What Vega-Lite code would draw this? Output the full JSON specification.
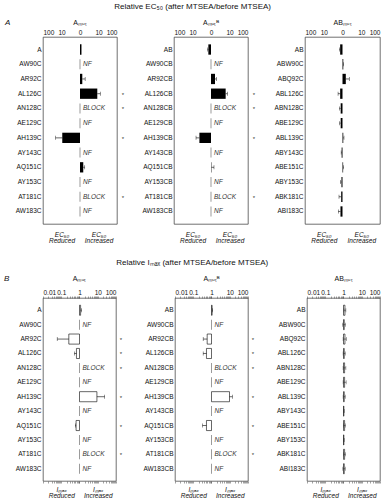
{
"$schema": "https://vega.github.io/schema/vega-lite/v6.json",
"padding": {"left": 3, "top": 2, "right": 2, "bottom": 0},
"config": {
 "font": "Liberation Sans",
 "view": {"stroke": "#333", "strokeWidth": 0.7},
 "axis": {"labelFontSize": 6.5, "ticks": false, "domain": false, "grid": false, "labelPadding": 2, "labelColor": "#111"},
 "title": {"fontSize": 7, "fontWeight": "normal", "offset": 3, "color": "#111"}
},
"data": {"values": [
 {"p":"A1","r":"A","v":1.2},
 {"p":"A1","r":"AW90C","n":"NF"},
 {"p":"A1","r":"AR92C","v":1.33,"e":1.9},
 {"p":"A1","r":"AL126C","v":8.6,"e":12.5,"s":1},
 {"p":"A1","r":"AN128C","n":"BLOCK","s":1},
 {"p":"A1","r":"AE129C","n":"NF"},
 {"p":"A1","r":"AH139C","v":0.11,"e":0.048,"s":1},
 {"p":"A1","r":"AY143C","n":"NF"},
 {"p":"A1","r":"AQ151C","v":1.5,"e":1.8},
 {"p":"A1","r":"AY153C","n":"NF"},
 {"p":"A1","r":"AT181C","n":"BLOCK","s":1},
 {"p":"A1","r":"AW183C","n":"NF"},
 {"p":"A2","r":"AB","v":0.72,"e":0.66},
 {"p":"A2","r":"AW90CB","n":"NF"},
 {"p":"A2","r":"AR92CB","v":1.65,"e":2.0},
 {"p":"A2","r":"AL126CB","v":6.2,"e":7.7,"s":1},
 {"p":"A2","r":"AN128CB","n":"BLOCK","s":1},
 {"p":"A2","r":"AE129CB","n":"NF"},
 {"p":"A2","r":"AH139CB","v":0.236,"e":0.155,"s":1},
 {"p":"A2","r":"AY143CB","n":"NF"},
 {"p":"A2","r":"AQ151CB","v":1.05,"e":1.45},
 {"p":"A2","r":"AY153CB","n":"NF"},
 {"p":"A2","r":"AT181CB","n":"BLOCK","s":1},
 {"p":"A2","r":"AW183CB","n":"NF"},
 {"p":"A3","r":"AB","v":0.75,"e":0.7},
 {"p":"A3","r":"ABW90C","v":1.1,"e":1.15},
 {"p":"A3","r":"ABQ92C","v":1.5,"e":2.3},
 {"p":"A3","r":"ABL126C","v":0.75,"e":0.58},
 {"p":"A3","r":"ABN128C","v":0.8,"e":0.69},
 {"p":"A3","r":"ABE129C","v":0.8,"e":0.7},
 {"p":"A3","r":"ABL139C","v":1.1,"e":1.2},
 {"p":"A3","r":"ABY143C","v":0.9,"e":0.85},
 {"p":"A3","r":"ABE151C","v":1.08,"e":1.15},
 {"p":"A3","r":"ABY153C","v":0.88,"e":0.78},
 {"p":"A3","r":"ABK181C","v":0.85,"e":0.65},
 {"p":"A3","r":"ABI183C","v":0.78,"e":0.6},
 {"p":"B1","r":"A","v":1.15,"e":1.3},
 {"p":"B1","r":"AW90C","n":"NF"},
 {"p":"B1","r":"AR92C","v":0.26,"e":0.06,"s":1},
 {"p":"B1","r":"AL126C","v":0.68,"e":0.52,"s":1},
 {"p":"B1","r":"AN128C","n":"BLOCK","s":1},
 {"p":"B1","r":"AE129C","n":"NF"},
 {"p":"B1","r":"AH139C","v":9,"e":24,"s":1},
 {"p":"B1","r":"AY143C","n":"NF"},
 {"p":"B1","r":"AQ151C","v":0.65,"e":0.6,"s":1},
 {"p":"B1","r":"AY153C","n":"NF"},
 {"p":"B1","r":"AT181C","n":"BLOCK","s":1},
 {"p":"B1","r":"AW183C","n":"NF"},
 {"p":"B2","r":"AB","v":1.08,"e":1.15},
 {"p":"B2","r":"AW90CB","n":"NF"},
 {"p":"B2","r":"AR92CB","v":0.58,"e":0.35,"s":1},
 {"p":"B2","r":"AL126CB","v":0.53,"e":0.35,"s":1},
 {"p":"B2","r":"AN128CB","n":"BLOCK","s":1},
 {"p":"B2","r":"AE129CB","n":"NF"},
 {"p":"B2","r":"AH139CB","v":9.7,"e":14,"s":1},
 {"p":"B2","r":"AY143CB","n":"NF"},
 {"p":"B2","r":"AQ151CB","v":0.53,"e":0.32,"s":1},
 {"p":"B2","r":"AY153CB","n":"NF"},
 {"p":"B2","r":"AT181CB","n":"BLOCK","s":1},
 {"p":"B2","r":"AW183CB","n":"NF"},
 {"p":"B3","r":"AB","v":1.2,"e":1.35,"l":1.05},
 {"p":"B3","r":"ABW90C","v":1.1,"e":1.3,"l":0.9},
 {"p":"B3","r":"ABQ92C","v":1.2,"e":1.45,"l":0.95},
 {"p":"B3","r":"ABL126C","v":1.1,"e":1.25,"l":0.95},
 {"p":"B3","r":"ABN128C","v":1.15,"e":1.35,"l":0.95},
 {"p":"B3","r":"ABE129C","v":1.15,"e":1.4,"l":0.95},
 {"p":"B3","r":"ABL139C","v":1.1,"e":1.25,"l":0.95},
 {"p":"B3","r":"ABY143C","v":1.05,"e":1.1,"l":1.0},
 {"p":"B3","r":"ABE151C","v":1.15,"e":1.3,"l":1.0},
 {"p":"B3","r":"ABY153C","v":1.05,"e":1.1,"l":1.0},
 {"p":"B3","r":"ABK181C","v":1.15,"e":1.3,"l":1.0},
 {"p":"B3","r":"ABI183C","v":1.1,"e":1.25,"l":0.92}
]},
"spacing": 13,
"vconcat": [
{
 "title": {"text": "Relative EC₅₀ (after MTSEA/before MTSEA)", "fontSize": 8, "anchor": "middle", "offset": 8},
 "vconcat": [{
 "title": {"text": "A", "anchor": "start", "offset": -8, "dx": -10, "fontSize": 8, "fontStyle": "italic"},
 "spacing": 57, "bounds": "flush",
 "hconcat": [
 {
  "width": 74, "height": 187, "title": "Aₘᵤₜ",
  "transform": [{"filter": "datum.p == 'A1'"}],
  "encoding": {"y": {"field": "r", "type": "nominal", "scale": {"domain": ["A","AW90C","AR92C","AL126C","AN128C","AE129C","AH139C","AY143C","AQ151C","AY153C","AT181C","AW183C"], "paddingInner": 0.3, "paddingOuter": 0.5}, "axis": {"title": null}}},
  "layer": [
   {"mark": {"type": "bar", "color": "black"}, "encoding": {"x": {"field": "v", "type": "quantitative", "scale": {"type": "log", "domain": [0.01, 100]}, "axis": {"orient": "top", "values": [0.01,0.1,1,10,100], "labelExpr": "datum.value < 0.05 ? '100' : datum.value < 0.5 ? '10' : datum.value < 5 ? '0' : datum.value < 50 ? '10' : '100'", "title": null}}, "x2": {"datum": 1}}},
   {"mark": {"type": "rule", "color": "black", "strokeWidth": 0.6}, "encoding": {"x": {"field": "e", "type": "quantitative", "scale": {"type": "log", "domain": [0.01, 100]}, "axis": {"orient": "bottom", "values": [0.1, 10], "labelExpr": "datum.value < 1 ? ['EC₅₀','Reduced'] : ['EC₅₀','Increased']", "labelFontStyle": "italic", "labelPadding": 7, "labelLineHeight": 6.5, "title": null}}, "x2": {"field": "v"}}},
   {"mark": {"type": "tick", "color": "black", "size": 4, "thickness": 0.6}, "encoding": {"x": {"field": "e", "type": "quantitative", "scale": {"type": "log", "domain": [0.01, 100]}, "axis": null}}},
   {"transform": [{"filter": "datum.n"}], "mark": {"type": "tick", "color": "#333", "size": 10, "thickness": 0.7}, "encoding": {"x": {"datum": 1, "scale": {"type": "log", "domain": [0.01, 100]}, "axis": null}}},
   {"transform": [{"filter": "datum.n"}], "mark": {"type": "text", "align": "left", "dx": 3, "fontStyle": "italic", "fontSize": 6.5, "color": "#333"}, "encoding": {"x": {"datum": 1, "scale": {"type": "log", "domain": [0.01, 100]}, "axis": null}, "text": {"field": "n"}}},
   {"transform": [{"filter": "datum.s"}], "mark": {"type": "text", "align": "center", "dx": 6, "dy": 1, "fontSize": 6, "color": "#333"}, "encoding": {"x": {"datum": 100, "scale": {"type": "log", "domain": [0.01, 100]}, "axis": null}, "text": {"value": "*"}}}
  ],
  "resolve": {"axis": {"x": "independent"}}
 },
 {
  "width": 74, "height": 187, "title": "Aₘᵤₜᴮ",
  "transform": [{"filter": "datum.p == 'A2'"}],
  "encoding": {"y": {"field": "r", "type": "nominal", "scale": {"domain": ["AB","AW90CB","AR92CB","AL126CB","AN128CB","AE129CB","AH139CB","AY143CB","AQ151CB","AY153CB","AT181CB","AW183CB"], "paddingInner": 0.3, "paddingOuter": 0.5}, "axis": {"title": null}}},
  "layer": [
   {"mark": {"type": "bar", "color": "black"}, "encoding": {"x": {"field": "v", "type": "quantitative", "scale": {"type": "log", "domain": [0.01, 100]}, "axis": {"orient": "top", "values": [0.01,0.1,1,10,100], "labelExpr": "datum.value < 0.05 ? '100' : datum.value < 0.5 ? '10' : datum.value < 5 ? '0' : datum.value < 50 ? '10' : '100'", "title": null}}, "x2": {"datum": 1}}},
   {"mark": {"type": "rule", "color": "black", "strokeWidth": 0.6}, "encoding": {"x": {"field": "e", "type": "quantitative", "scale": {"type": "log", "domain": [0.01, 100]}, "axis": {"orient": "bottom", "values": [0.1, 10], "labelExpr": "datum.value < 1 ? ['EC₅₀','Reduced'] : ['EC₅₀','Increased']", "labelFontStyle": "italic", "labelPadding": 7, "labelLineHeight": 6.5, "title": null}}, "x2": {"field": "v"}}},
   {"mark": {"type": "tick", "color": "black", "size": 4, "thickness": 0.6}, "encoding": {"x": {"field": "e", "type": "quantitative", "scale": {"type": "log", "domain": [0.01, 100]}, "axis": null}}},
   {"transform": [{"filter": "datum.n"}], "mark": {"type": "tick", "color": "#333", "size": 10, "thickness": 0.7}, "encoding": {"x": {"datum": 1, "scale": {"type": "log", "domain": [0.01, 100]}, "axis": null}}},
   {"transform": [{"filter": "datum.n"}], "mark": {"type": "text", "align": "left", "dx": 3, "fontStyle": "italic", "fontSize": 6.5, "color": "#333"}, "encoding": {"x": {"datum": 1, "scale": {"type": "log", "domain": [0.01, 100]}, "axis": null}, "text": {"field": "n"}}},
   {"transform": [{"filter": "datum.s"}], "mark": {"type": "text", "align": "center", "dx": 6, "dy": 1, "fontSize": 6, "color": "#333"}, "encoding": {"x": {"datum": 100, "scale": {"type": "log", "domain": [0.01, 100]}, "axis": null}, "text": {"value": "*"}}}
  ],
  "resolve": {"axis": {"x": "independent"}}
 },
 {
  "width": 75, "height": 187, "title": "ABₘᵤₜ",
  "transform": [{"filter": "datum.p == 'A3'"}],
  "encoding": {"y": {"field": "r", "type": "nominal", "scale": {"domain": ["AB","ABW90C","ABQ92C","ABL126C","ABN128C","ABE129C","ABL139C","ABY143C","ABE151C","ABY153C","ABK181C","ABI183C"], "paddingInner": 0.3, "paddingOuter": 0.5}, "axis": {"title": null}}},
  "layer": [
   {"mark": {"type": "bar", "color": "black"}, "encoding": {"x": {"field": "v", "type": "quantitative", "scale": {"type": "log", "domain": [0.01, 100]}, "axis": {"orient": "top", "values": [0.01,0.1,1,10,100], "labelFlush": true, "labelExpr": "datum.value < 0.05 ? '100' : datum.value < 0.5 ? '10' : datum.value < 5 ? '0' : datum.value < 50 ? '10' : '100'", "title": null}}, "x2": {"datum": 1}}},
   {"mark": {"type": "rule", "color": "black", "strokeWidth": 0.6}, "encoding": {"x": {"field": "e", "type": "quantitative", "scale": {"type": "log", "domain": [0.01, 100]}, "axis": {"orient": "bottom", "values": [0.1, 10], "labelExpr": "datum.value < 1 ? ['EC₅₀','Reduced'] : ['EC₅₀','Increased']", "labelFontStyle": "italic", "labelPadding": 7, "labelLineHeight": 6.5, "title": null}}, "x2": {"field": "v"}}},
   {"mark": {"type": "tick", "color": "black", "size": 4, "thickness": 0.6}, "encoding": {"x": {"field": "e", "type": "quantitative", "scale": {"type": "log", "domain": [0.01, 100]}, "axis": null}}}
  ],
  "resolve": {"axis": {"x": "independent"}}
 }
 ]
 }]
},
{
 "title": {"text": "Relative Iₘₐₓ (after MTSEA/before MTSEA)", "fontSize": 8, "anchor": "middle", "offset": 8},
 "vconcat": [{
 "title": {"text": "B", "anchor": "start", "offset": -8, "dx": -11, "fontSize": 8, "fontStyle": "italic"},
 "spacing": 59, "bounds": "flush",
 "hconcat": [
 {
  "width": 73, "height": 183, "title": {"text": "Aₘᵤₜ", "offset": 7},
  "transform": [{"filter": "datum.p == 'B1'"}],
  "encoding": {"y": {"field": "r", "type": "nominal", "scale": {"domain": ["A","AW90C","AR92C","AL126C","AN128C","AE129C","AH139C","AY143C","AQ151C","AY153C","AT181C","AW183C"], "paddingInner": 0.3, "paddingOuter": 0.5}, "axis": {"title": null}}},
  "layer": [
   {"mark": {"type": "bar", "fill": "white", "stroke": "black", "strokeWidth": 0.6}, "encoding": {"x": {"field": "v", "type": "quantitative", "scale": {"type": "log", "domain": [0.01, 100]}, "axis": {"orient": "top", "values": [0.01,0.02,0.03,0.04,0.05,0.06,0.07,0.08,0.09,0.1,0.2,0.3,0.4,0.5,0.6,0.7,0.8,0.9,1,2,3,4,5,6,7,8,9,10,20,30,40,50,60,70,80,90,100], "labelExpr": "datum.value==0.01?'0.01':datum.value==0.1?'0.1':datum.value==1?'1':datum.value==10?'10':datum.value==100?'100':''", "labelOverlap": false, "ticks": true, "tickSize": 2, "tickWidth": 0.5, "tickColor": "#444", "labelPadding": 1, "title": null}}, "x2": {"datum": 1}}},
   {"mark": {"type": "rule", "color": "black", "strokeWidth": 0.6}, "encoding": {"x": {"field": "e", "type": "quantitative", "scale": {"type": "log", "domain": [0.01, 100]}, "axis": {"orient": "bottom", "values": [0.01,0.02,0.03,0.04,0.05,0.06,0.07,0.08,0.09,0.1,0.2,0.3,0.4,0.5,0.6,0.7,0.8,0.9,1,2,3,4,5,6,7,8,9,10,20,30,40,50,60,70,80,90,100], "labelExpr": "datum.value==0.1?['Iₘₐₓ','Reduced']:datum.value==10?['Iₘₐₓ','Increased']:''", "labelOverlap": false, "ticks": true, "tickSize": 2, "tickWidth": 0.5, "tickColor": "#444", "labelFontStyle": "italic", "labelPadding": 3, "labelLineHeight": 6.5, "title": null}}, "x2": {"field": "v"}}},
   {"mark": {"type": "tick", "color": "black", "size": 4, "thickness": 0.6}, "encoding": {"x": {"field": "e", "type": "quantitative", "scale": {"type": "log", "domain": [0.01, 100]}, "axis": null}}},
   {"transform": [{"filter": "datum.n"}], "mark": {"type": "tick", "color": "#333", "size": 10, "thickness": 0.7}, "encoding": {"x": {"datum": 1, "scale": {"type": "log", "domain": [0.01, 100]}, "axis": null}}},
   {"transform": [{"filter": "datum.n"}], "mark": {"type": "text", "align": "left", "dx": 3, "fontStyle": "italic", "fontSize": 6.5, "color": "#333"}, "encoding": {"x": {"datum": 1, "scale": {"type": "log", "domain": [0.01, 100]}, "axis": null}, "text": {"field": "n"}}},
   {"transform": [{"filter": "datum.s"}], "mark": {"type": "text", "align": "center", "dx": 5, "dy": 1, "fontSize": 6, "color": "#333"}, "encoding": {"x": {"datum": 100, "scale": {"type": "log", "domain": [0.01, 100]}, "axis": null}, "text": {"value": "*"}}}
  ],
  "resolve": {"axis": {"x": "independent"}}
 },
 {
  "width": 73, "height": 183, "title": {"text": "Aₘᵤₜᴮ", "offset": 7},
  "transform": [{"filter": "datum.p == 'B2'"}],
  "encoding": {"y": {"field": "r", "type": "nominal", "scale": {"domain": ["AB","AW90CB","AR92CB","AL126CB","AN128CB","AE129CB","AH139CB","AY143CB","AQ151CB","AY153CB","AT181CB","AW183CB"], "paddingInner": 0.3, "paddingOuter": 0.5}, "axis": {"title": null}}},
  "layer": [
   {"mark": {"type": "bar", "fill": "white", "stroke": "black", "strokeWidth": 0.6}, "encoding": {"x": {"field": "v", "type": "quantitative", "scale": {"type": "log", "domain": [0.01, 100]}, "axis": {"orient": "top", "values": [0.01,0.02,0.03,0.04,0.05,0.06,0.07,0.08,0.09,0.1,0.2,0.3,0.4,0.5,0.6,0.7,0.8,0.9,1,2,3,4,5,6,7,8,9,10,20,30,40,50,60,70,80,90,100], "labelExpr": "datum.value==0.01?'0.01':datum.value==0.1?'0.1':datum.value==1?'1':datum.value==10?'10':datum.value==100?'100':''", "labelOverlap": false, "ticks": true, "tickSize": 2, "tickWidth": 0.5, "tickColor": "#444", "labelPadding": 1, "title": null}}, "x2": {"datum": 1}}},
   {"mark": {"type": "rule", "color": "black", "strokeWidth": 0.6}, "encoding": {"x": {"field": "e", "type": "quantitative", "scale": {"type": "log", "domain": [0.01, 100]}, "axis": {"orient": "bottom", "values": [0.01,0.02,0.03,0.04,0.05,0.06,0.07,0.08,0.09,0.1,0.2,0.3,0.4,0.5,0.6,0.7,0.8,0.9,1,2,3,4,5,6,7,8,9,10,20,30,40,50,60,70,80,90,100], "labelExpr": "datum.value==0.1?['Iₘₐₓ','Reduced']:datum.value==10?['Iₘₐₓ','Increased']:''", "labelOverlap": false, "ticks": true, "tickSize": 2, "tickWidth": 0.5, "tickColor": "#444", "labelFontStyle": "italic", "labelPadding": 3, "labelLineHeight": 6.5, "title": null}}, "x2": {"field": "v"}}},
   {"mark": {"type": "tick", "color": "black", "size": 4, "thickness": 0.6}, "encoding": {"x": {"field": "e", "type": "quantitative", "scale": {"type": "log", "domain": [0.01, 100]}, "axis": null}}},
   {"transform": [{"filter": "datum.n"}], "mark": {"type": "tick", "color": "#333", "size": 10, "thickness": 0.7}, "encoding": {"x": {"datum": 1, "scale": {"type": "log", "domain": [0.01, 100]}, "axis": null}}},
   {"transform": [{"filter": "datum.n"}], "mark": {"type": "text", "align": "left", "dx": 3, "fontStyle": "italic", "fontSize": 6.5, "color": "#333"}, "encoding": {"x": {"datum": 1, "scale": {"type": "log", "domain": [0.01, 100]}, "axis": null}, "text": {"field": "n"}}},
   {"transform": [{"filter": "datum.s"}], "mark": {"type": "text", "align": "center", "dx": 5, "dy": 1, "fontSize": 6, "color": "#333"}, "encoding": {"x": {"datum": 100, "scale": {"type": "log", "domain": [0.01, 100]}, "axis": null}, "text": {"value": "*"}}}
  ],
  "resolve": {"axis": {"x": "independent"}}
 },
 {
  "width": 73, "height": 183, "title": {"text": "ABₘᵤₜ", "offset": 7},
  "transform": [{"filter": "datum.p == 'B3'"}],
  "encoding": {"y": {"field": "r", "type": "nominal", "scale": {"domain": ["AB","ABW90C","ABQ92C","ABL126C","ABN128C","ABE129C","ABL139C","ABY143C","ABE151C","ABY153C","ABK181C","ABI183C"], "paddingInner": 0.3, "paddingOuter": 0.5}, "axis": {"title": null}}},
  "layer": [
   {"mark": {"type": "bar", "fill": "white", "stroke": "black", "strokeWidth": 0.6}, "encoding": {"x": {"field": "v", "type": "quantitative", "scale": {"type": "log", "domain": [0.01, 100]}, "axis": {"orient": "top", "values": [0.01,0.02,0.03,0.04,0.05,0.06,0.07,0.08,0.09,0.1,0.2,0.3,0.4,0.5,0.6,0.7,0.8,0.9,1,2,3,4,5,6,7,8,9,10,20,30,40,50,60,70,80,90,100], "labelFlush": true, "labelExpr": "datum.value==0.01?'0.01':datum.value==0.1?'0.1':datum.value==1?'1':datum.value==10?'10':datum.value==100?'100':''", "labelOverlap": false, "ticks": true, "tickSize": 2, "tickWidth": 0.5, "tickColor": "#444", "labelPadding": 1, "title": null}}, "x2": {"datum": 1}}},
   {"mark": {"type": "rule", "color": "#333", "strokeWidth": 0.6}, "encoding": {"x": {"field": "e", "type": "quantitative", "scale": {"type": "log", "domain": [0.01, 100]}, "axis": {"orient": "bottom", "values": [0.01,0.02,0.03,0.04,0.05,0.06,0.07,0.08,0.09,0.1,0.2,0.3,0.4,0.5,0.6,0.7,0.8,0.9,1,2,3,4,5,6,7,8,9,10,20,30,40,50,60,70,80,90,100], "labelExpr": "datum.value==0.1?['Iₘₐₓ','Reduced']:datum.value==10?['Iₘₐₓ','Increased']:''", "labelOverlap": false, "ticks": true, "tickSize": 2, "tickWidth": 0.5, "tickColor": "#444", "labelFontStyle": "italic", "labelPadding": 3, "labelLineHeight": 6.5, "title": null}}, "x2": {"field": "l"}}},
   {"mark": {"type": "tick", "color": "#333", "size": 4, "thickness": 0.6}, "encoding": {"x": {"field": "e", "type": "quantitative", "scale": {"type": "log", "domain": [0.01, 100]}, "axis": null}}},
   {"mark": {"type": "tick", "color": "#333", "size": 4, "thickness": 0.6}, "encoding": {"x": {"field": "l", "type": "quantitative", "scale": {"type": "log", "domain": [0.01, 100]}, "axis": null}}}
  ],
  "resolve": {"axis": {"x": "independent"}}
 }
 ]
 }]
}
]
}
